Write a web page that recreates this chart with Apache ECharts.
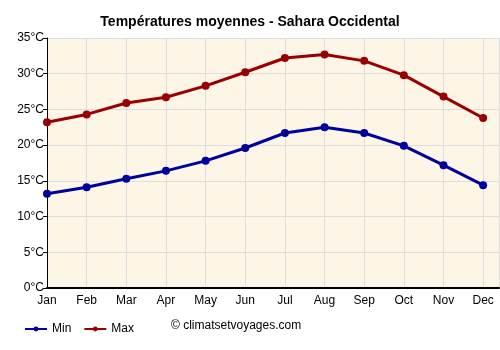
<!DOCTYPE html>
<html>
<head>
<meta charset="utf-8">
<script src="https://cdn.jsdelivr.net/npm/echarts@6/dist/echarts.min.js"></script>
<style>
  html, body { margin: 0; padding: 0; background: #fff; }
  #chart { width: 500px; height: 350px; }
</style>
</head>
<body>
<div id="chart"></div>
<script>
var months = ['Jan', 'Feb', 'Mar', 'Apr', 'May', 'Jun', 'Jul', 'Aug', 'Sep', 'Oct', 'Nov', 'Dec'];
var minTemps = [13.2, 14.1, 15.3, 16.4, 17.8, 19.6, 21.7, 22.5, 21.7, 19.9, 17.2, 14.4];
var maxTemps = [23.2, 24.3, 25.9, 26.7, 28.3, 30.2, 32.2, 32.7, 31.8, 29.8, 26.8, 23.8];

function pairs(values) {
  return values.map(function (v, i) { return [i, v]; });
}

var chart = echarts.init(document.getElementById('chart'));

var option = {
  backgroundColor: '#ffffff',
  animation: false,
  textStyle: { fontFamily: 'Liberation Sans, Arial, sans-serif' },
  title: {
    text: 'Températures moyennes - Sahara Occidental',
    left: 'center',
    top: 10,
    textStyle: { fontSize: 14, fontWeight: 'bold', color: '#000' }
  },
  legend: {
    left: 19,
    top: 318,
    itemWidth: 22,
    itemHeight: 6,
    itemGap: 12,
    textStyle: { fontSize: 12, color: '#000' },
    data: ['Min', 'Max']
  },
  graphic: [{
    type: 'text',
    left: 171,
    top: 320,
    style: { text: '© climatsetvoyages.com', fontSize: 12, fill: '#000', fontFamily: 'Liberation Sans, Arial, sans-serif' }
  }],
  grid: {
    left: 47,
    right: 1,
    top: 38,
    bottom: 62,
    show: true,
    backgroundColor: '#fdf5e6',
    borderWidth: 0
  },
  xAxis: {
    type: 'value',
    min: 0,
    max: 11.4,
    interval: 1,
    axisLine: { show: true, lineStyle: { color: '#000', width: 2 } },
    axisTick: { show: false },
    axisLabel: {
      color: '#000',
      fontSize: 12,
      margin: 7,
      showMaxLabel: false,
      formatter: function (v) { return months[v] || ''; }
    },
    splitLine: { show: true, lineStyle: { color: '#dddddd', width: 1 } }
  },
  yAxis: {
    type: 'value',
    min: 0,
    max: 35,
    interval: 5,
    axisLine: { show: true, lineStyle: { color: '#000', width: 1 } },
    axisTick: { show: true, length: 4, lineStyle: { color: '#000' } },
    axisLabel: { color: '#000', fontSize: 12, margin: 3, formatter: '{value}°C' },
    splitLine: { show: true, lineStyle: { color: '#dddddd', width: 1 } }
  },
  series: [
    {
      name: 'Min',
      type: 'line',
      data: pairs(minTemps),
      symbol: 'circle',
      symbolSize: 8,
      color: '#00009c',
      lineStyle: { width: 3 }
    },
    {
      name: 'Max',
      type: 'line',
      data: pairs(maxTemps),
      symbol: 'circle',
      symbolSize: 8,
      color: '#990000',
      lineStyle: { width: 3 }
    }
  ]
};

chart.setOption(option);
</script>
</body>
</html>
